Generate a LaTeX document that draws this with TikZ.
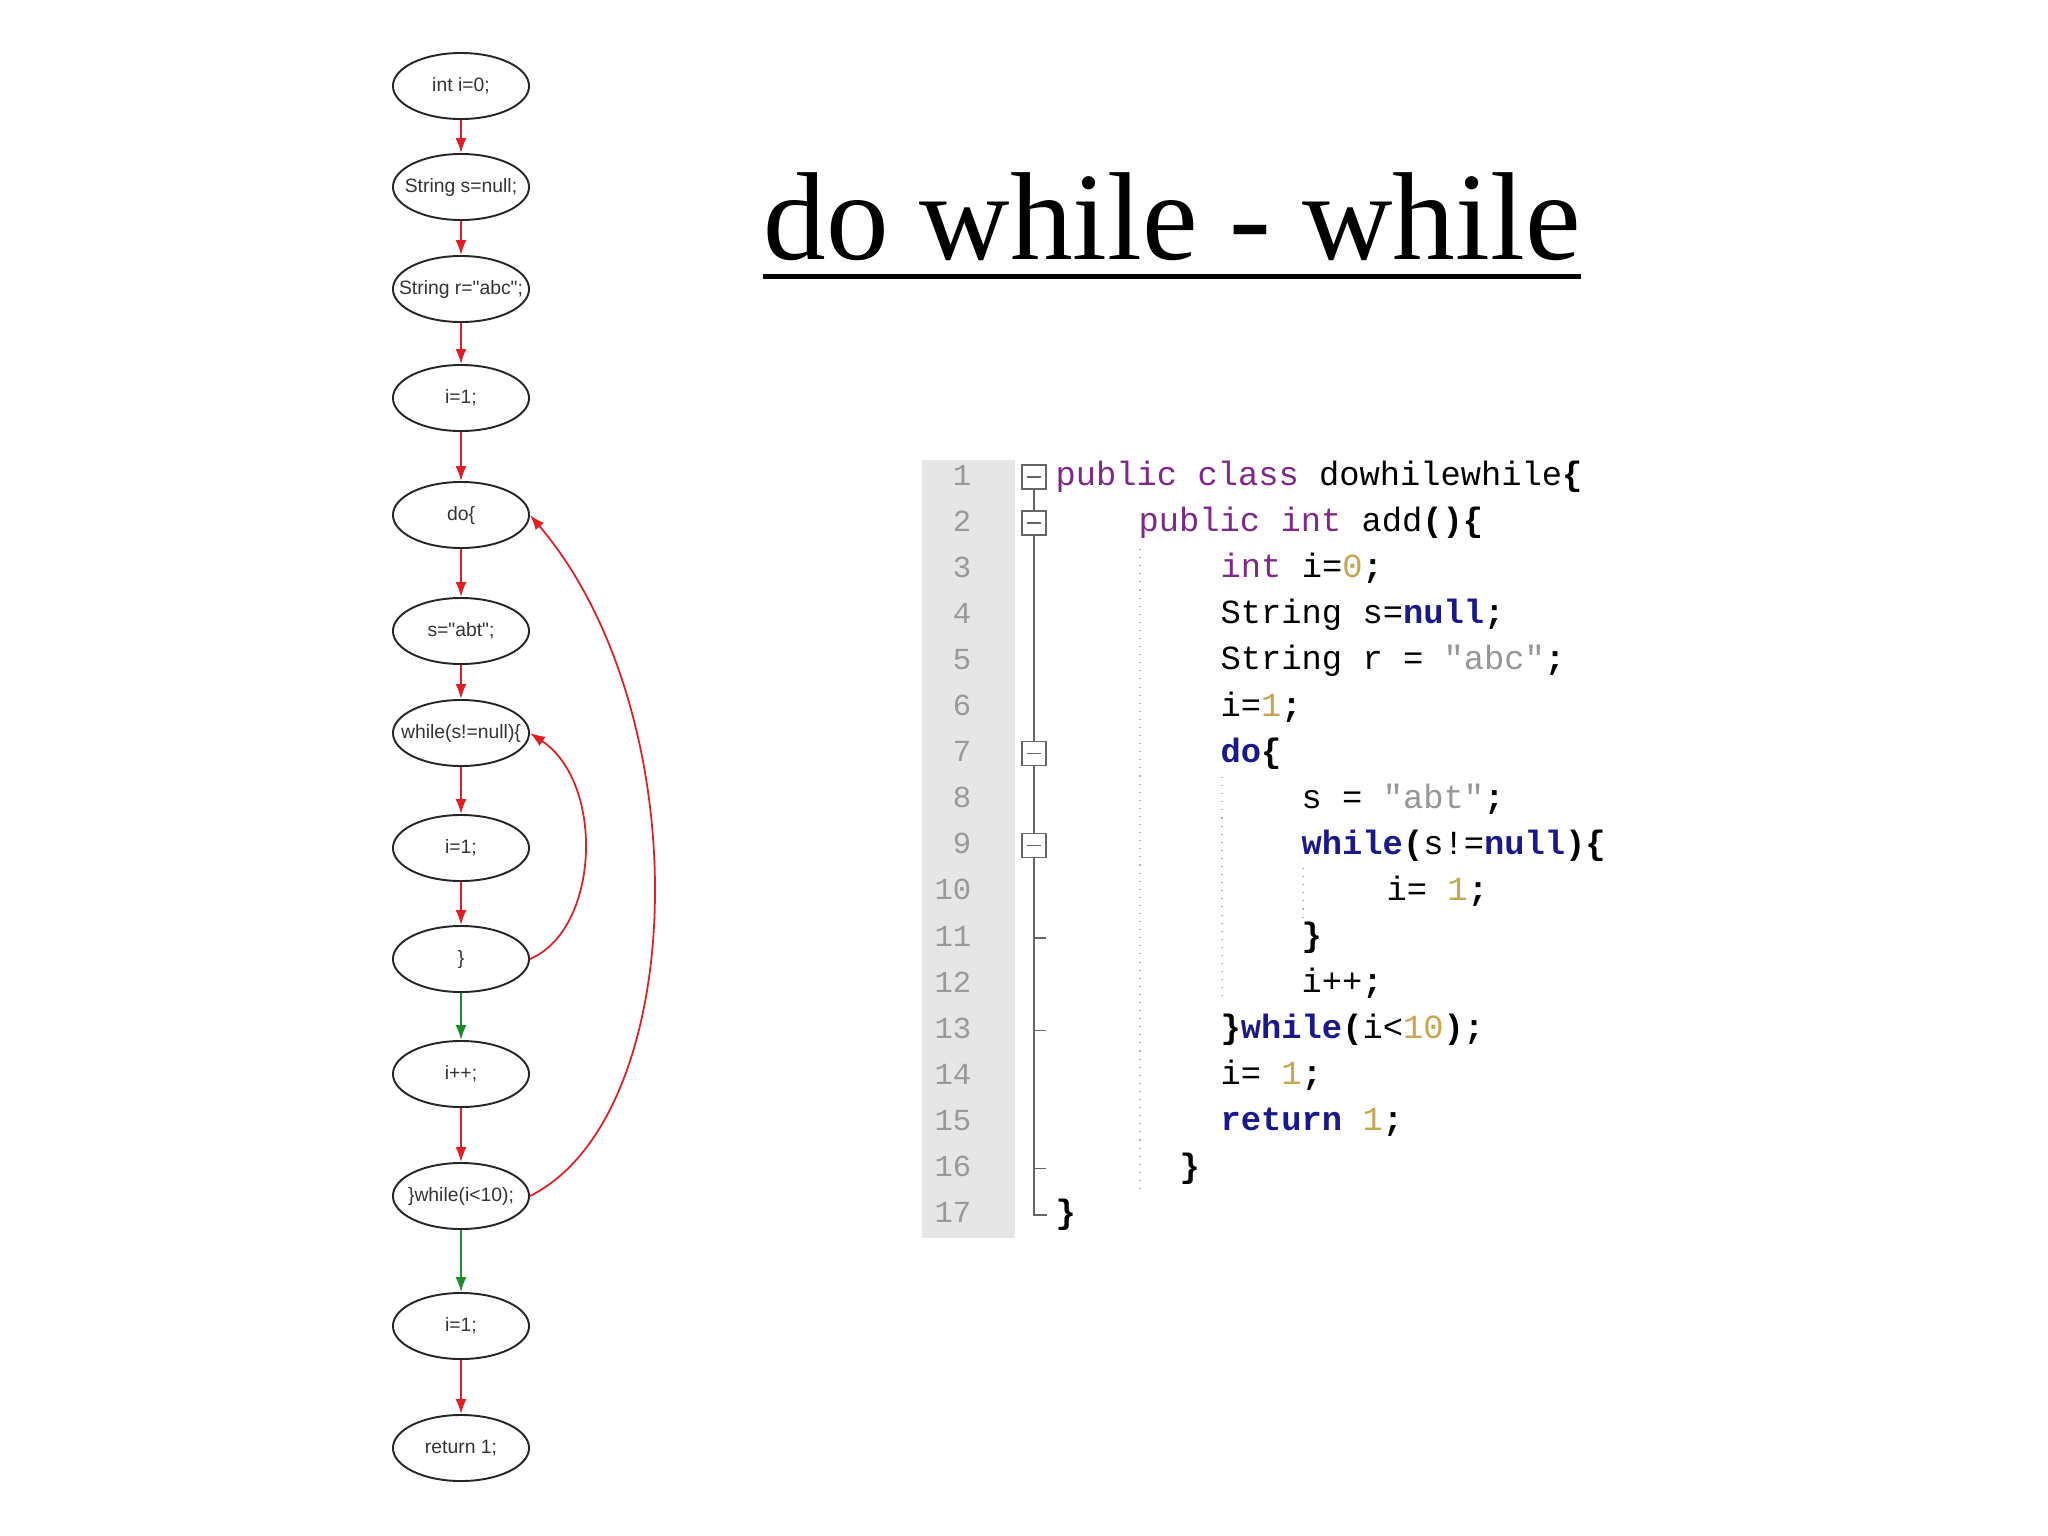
\documentclass[tikz,border=0pt]{standalone}
\usepackage{fontspec}
\usepackage{xcolor}
\usepackage{tikz}
\usetikzlibrary{shapes.geometric, arrows.meta}
\newfontfamily\flowfont{Liberation Sans}
\newfontfamily\codefont{Liberation Mono}
\newfontfamily\titlefont{Liberation Serif}
\definecolor{flowred}{RGB}{225,30,35}
\definecolor{flowgreen}{RGB}{30,140,40}
\definecolor{kwpurple}{RGB}{127,40,140}
\definecolor{kwblue}{RGB}{25,25,140}
\definecolor{numgold}{RGB}{200,165,80}
\definecolor{strgray}{RGB}{150,150,150}
\definecolor{guttergray}{RGB}{230,230,230}
\newcommand\cdkw[1]{{\color{kwpurple}#1}}
\newcommand\cdkb[1]{{\bfseries\color{kwblue}#1}}
\newcommand\cdnum[1]{{\color{numgold}#1}}
\newcommand\cdstr[1]{{\color{strgray}#1}}
\newcommand\cdb[1]{{\bfseries #1}}
\tikzset{
    stmt/.style = {ellipse, draw=black!85, line width=0.55pt,
        minimum width=1.36cm, minimum height=0.66cm, inner xsep=-2mm, inner ysep=0pt,
        font=\flowfont\fontsize{5.5}{6}\selectfont, text=black!80},
    flow/.style = {draw=flowred, line width=0.5pt, -{Latex[length=1.5mm,width=1.1mm]}},
    flowok/.style = {flow, draw=flowgreen},
    codeline/.style = {anchor=base west, inner sep=0pt, font=\codefont\fontsize{9.6}{11}\selectfont},
    lineno/.style = {anchor=base east, inner sep=0pt, text=black!40, font=\codefont\fontsize{8.7}{10}\selectfont},
}
\begin{document}
\begin{tikzpicture}[x=0.01cm, y=-0.01cm]
\useasboundingbox (0,0) rectangle (2048,1536);

\node[inner sep=0pt, anchor=base, font=\titlefont\fontsize{35.6}{40}\selectfont] (T) at (1172,259) {do while - while};
\draw[line width=0.5mm] ([yshift=-1.7mm]T.base west) -- ([yshift=-1.7mm]T.base east);

\node[stmt] (A) at (461,86) {int i=0;};
\node[stmt] (B) at (461,187) {String s=null;};
\node[stmt] (C) at (461,289) {String r="abc";};
\node[stmt] (D) at (461,398) {i=1;};
\node[stmt] (E) at (461,515) {do\{};
\node[stmt] (F) at (461,631) {s="abt";};
\node[stmt] (G) at (461,733) {while(s!=null)\{};
\node[stmt] (H) at (461,848) {i=1;};
\node[stmt] (I) at (461,959) {\}};
\node[stmt] (J) at (461,1074) {i++;};
\node[stmt] (K) at (461,1196) {\}while(i<10);};
\node[stmt] (L) at (461,1326) {i=1;};
\node[stmt] (M) at (461,1448) {return 1;};

\draw[flow] (A) -- (B);
\draw[flow] (B) -- (C);
\draw[flow] (C) -- (D);
\draw[flow] (D) -- (E);
\draw[flow] (E) -- (F);
\draw[flow] (F) -- (G);
\draw[flow] (G) -- (H);
\draw[flow] (H) -- (I);
\draw[flowok] (I) -- (J);
\draw[flow] (J) -- (K);
\draw[flowok] (K) -- (L);
\draw[flow] (L) -- (M);
\draw[flow] (I.east) .. controls +(70,-30) and +(75,50) .. (G.east);
\draw[flow] (K.east) .. controls +(160,-80) and +(170,200) .. (E.east);

% code listing
\fill[guttergray] (922,460) rectangle (1015,1238);
\foreach \i in {1,...,17}
    \node[lineno] (n\i) at (972,{438.9+46.1*\i}) {\i};
\draw[black!60, line width=0.35pt] (1034,477) -- (1034,1215) -- (1047,1215);
\foreach \i in {11,13,16}
    \draw[black!60, line width=0.35pt] (1034,{430.9+46.1*\i}) -- +(12,0);
\foreach \i in {1,2,7,9}{
    \draw[black!60, line width=0.35pt, fill=white] (1022,{418.9+46.1*\i}) rectangle +(24,24);
    \draw[black!60, line width=0.35pt] (1027,{430.9+46.1*\i}) -- +(14,0);
}
\draw[black!30, dotted, line width=0.3pt] (1140,549) -- (1140,1191);
\draw[black!30, dotted, line width=0.3pt] (1222,777) -- (1222,999);
\draw[black!30, dotted, line width=0.3pt] (1303,868) -- (1303,921);

\node[codeline] (c1) at (1055,485) {\cdkw{public class} dowhilewhile\cdb{\{}};
\node[codeline] (c2) at (1138,531) {\cdkw{public int} add\cdb{()\{}};
\node[codeline] (c3) at (1220,577) {\cdkw{int} i=\cdnum{0}\cdb{;}};
\node[codeline] (c4) at (1220,623) {String s=\cdkb{null}\cdb{;}};
\node[codeline] (c5) at (1220,669) {String r = \cdstr{"abc"}\cdb{;}};
\node[codeline] (c6) at (1220,716) {i=\cdnum{1}\cdb{;}};
\node[codeline] (c7) at (1220,762) {\cdkb{do}\cdb{\{}};
\node[codeline] (c8) at (1301,808) {s = \cdstr{"abt"}\cdb{;}};
\node[codeline] (c9) at (1301,854) {\cdkb{while}\cdb{(}s!=\cdkb{null}\cdb{)\{}};
\node[codeline] (c10) at (1386,900) {i= \cdnum{1}\cdb{;}};
\node[codeline] (c11) at (1301,946) {\cdb{\}}};
\node[codeline] (c12) at (1301,992) {i++\cdb{;}};
\node[codeline] (c13) at (1220,1038) {\cdb{\}}\cdkb{while}\cdb{(}i<\cdnum{10}\cdb{);}};
\node[codeline] (c14) at (1220,1084) {i= \cdnum{1}\cdb{;}};
\node[codeline] (c15) at (1220,1130) {\cdkb{return} \cdnum{1}\cdb{;}};
\node[codeline] (c16) at (1179,1177) {\cdb{\}}};
\node[codeline] (c17) at (1055,1223) {\cdb{\}}};
\end{tikzpicture}
\end{document}
